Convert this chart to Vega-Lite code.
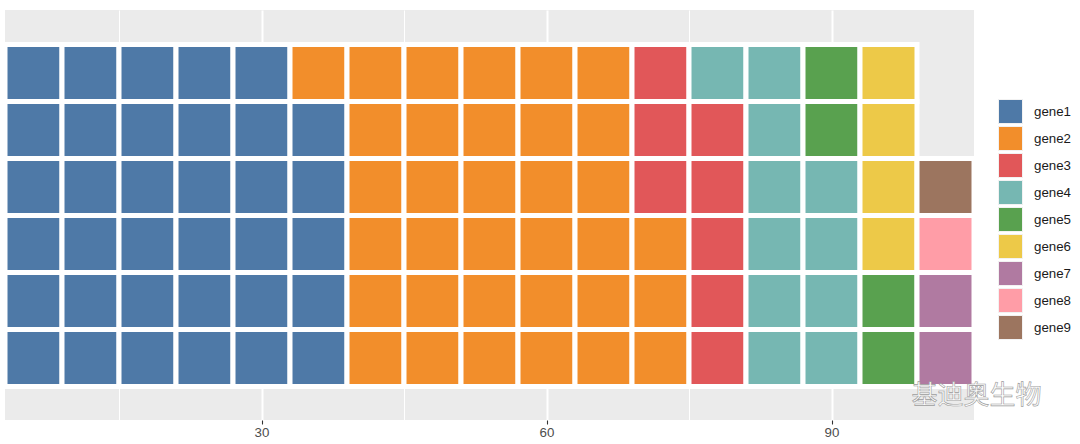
{
  "$schema": "https://vega.github.io/schema/vega-lite/v6.json",
  "width": 969,
  "height": 410,
  "autosize": {"type": "none"},
  "padding": {"left": 5, "top": 10, "right": 106, "bottom": 24},
  "background": "white",
  "config": {
    "view": {"fill": "#EBEBEB", "stroke": null},
    "font": "Liberation Sans"
  },
  "layer": [
    {
      "data": {
        "values": [
          {"x": 6, "y": 1, "g": "gene1"}, {"x": 6, "y": 2, "g": "gene1"}, {"x": 6, "y": 3, "g": "gene1"}, {"x": 6, "y": 4, "g": "gene1"}, {"x": 6, "y": 5, "g": "gene1"}, {"x": 6, "y": 6, "g": "gene1"},
          {"x": 12, "y": 1, "g": "gene1"}, {"x": 12, "y": 2, "g": "gene1"}, {"x": 12, "y": 3, "g": "gene1"}, {"x": 12, "y": 4, "g": "gene1"}, {"x": 12, "y": 5, "g": "gene1"}, {"x": 12, "y": 6, "g": "gene1"},
          {"x": 18, "y": 1, "g": "gene1"}, {"x": 18, "y": 2, "g": "gene1"}, {"x": 18, "y": 3, "g": "gene1"}, {"x": 18, "y": 4, "g": "gene1"}, {"x": 18, "y": 5, "g": "gene1"}, {"x": 18, "y": 6, "g": "gene1"},
          {"x": 24, "y": 1, "g": "gene1"}, {"x": 24, "y": 2, "g": "gene1"}, {"x": 24, "y": 3, "g": "gene1"}, {"x": 24, "y": 4, "g": "gene1"}, {"x": 24, "y": 5, "g": "gene1"}, {"x": 24, "y": 6, "g": "gene1"},
          {"x": 30, "y": 1, "g": "gene1"}, {"x": 30, "y": 2, "g": "gene1"}, {"x": 30, "y": 3, "g": "gene1"}, {"x": 30, "y": 4, "g": "gene1"}, {"x": 30, "y": 5, "g": "gene1"}, {"x": 30, "y": 6, "g": "gene1"},
          {"x": 36, "y": 1, "g": "gene1"}, {"x": 36, "y": 2, "g": "gene1"}, {"x": 36, "y": 3, "g": "gene1"}, {"x": 36, "y": 4, "g": "gene1"}, {"x": 36, "y": 5, "g": "gene1"}, {"x": 36, "y": 6, "g": "gene2"},
          {"x": 42, "y": 1, "g": "gene2"}, {"x": 42, "y": 2, "g": "gene2"}, {"x": 42, "y": 3, "g": "gene2"}, {"x": 42, "y": 4, "g": "gene2"}, {"x": 42, "y": 5, "g": "gene2"}, {"x": 42, "y": 6, "g": "gene2"},
          {"x": 48, "y": 1, "g": "gene2"}, {"x": 48, "y": 2, "g": "gene2"}, {"x": 48, "y": 3, "g": "gene2"}, {"x": 48, "y": 4, "g": "gene2"}, {"x": 48, "y": 5, "g": "gene2"}, {"x": 48, "y": 6, "g": "gene2"},
          {"x": 54, "y": 1, "g": "gene2"}, {"x": 54, "y": 2, "g": "gene2"}, {"x": 54, "y": 3, "g": "gene2"}, {"x": 54, "y": 4, "g": "gene2"}, {"x": 54, "y": 5, "g": "gene2"}, {"x": 54, "y": 6, "g": "gene2"},
          {"x": 60, "y": 1, "g": "gene2"}, {"x": 60, "y": 2, "g": "gene2"}, {"x": 60, "y": 3, "g": "gene2"}, {"x": 60, "y": 4, "g": "gene2"}, {"x": 60, "y": 5, "g": "gene2"}, {"x": 60, "y": 6, "g": "gene2"},
          {"x": 66, "y": 1, "g": "gene2"}, {"x": 66, "y": 2, "g": "gene2"}, {"x": 66, "y": 3, "g": "gene2"}, {"x": 66, "y": 4, "g": "gene2"}, {"x": 66, "y": 5, "g": "gene2"}, {"x": 66, "y": 6, "g": "gene2"},
          {"x": 72, "y": 1, "g": "gene2"}, {"x": 72, "y": 2, "g": "gene2"}, {"x": 72, "y": 3, "g": "gene2"}, {"x": 72, "y": 4, "g": "gene3"}, {"x": 72, "y": 5, "g": "gene3"}, {"x": 72, "y": 6, "g": "gene3"},
          {"x": 78, "y": 1, "g": "gene3"}, {"x": 78, "y": 2, "g": "gene3"}, {"x": 78, "y": 3, "g": "gene3"}, {"x": 78, "y": 4, "g": "gene3"}, {"x": 78, "y": 5, "g": "gene3"}, {"x": 78, "y": 6, "g": "gene4"},
          {"x": 84, "y": 1, "g": "gene4"}, {"x": 84, "y": 2, "g": "gene4"}, {"x": 84, "y": 3, "g": "gene4"}, {"x": 84, "y": 4, "g": "gene4"}, {"x": 84, "y": 5, "g": "gene4"}, {"x": 84, "y": 6, "g": "gene4"},
          {"x": 90, "y": 1, "g": "gene4"}, {"x": 90, "y": 2, "g": "gene4"}, {"x": 90, "y": 3, "g": "gene4"}, {"x": 90, "y": 4, "g": "gene4"}, {"x": 90, "y": 5, "g": "gene5"}, {"x": 90, "y": 6, "g": "gene5"},
          {"x": 96, "y": 1, "g": "gene5"}, {"x": 96, "y": 2, "g": "gene5"}, {"x": 96, "y": 3, "g": "gene6"}, {"x": 96, "y": 4, "g": "gene6"}, {"x": 96, "y": 5, "g": "gene6"}, {"x": 96, "y": 6, "g": "gene6"},
          {"x": 102, "y": 1, "g": "gene7"}, {"x": 102, "y": 2, "g": "gene7"}, {"x": 102, "y": 3, "g": "gene8"}, {"x": 102, "y": 4, "g": "gene9"}
        ]
      },
      "mark": {"type": "square", "size": 3249, "filled": true, "opacity": 1, "stroke": "white", "strokeWidth": 5},
      "encoding": {
        "x": {
          "field": "x", "type": "quantitative",
          "scale": {"domain": [3, 105], "nice": false, "zero": false},
          "axis": {
            "title": null,
            "values": [15, 30, 45, 60, 75, 90],
            "domain": false,
            "grid": true,
            "gridColor": "white",
            "gridWidth": {"condition": {"test": "datum.value % 30 === 0", "value": 2}, "value": 1},
            "tickOpacity": {"condition": {"test": "datum.value % 30 === 0", "value": 1}, "value": 0},
            "tickColor": "#333333",
            "tickSize": 4,
            "tickWidth": 1.1,
            "labelExpr": "datum.value % 30 === 0 ? datum.label : ''",
            "labelFont": "Liberation Sans",
            "labelFontSize": 13.3,
            "labelColor": "#4D4D4D",
            "labelPadding": 1
          }
        },
        "y": {
          "field": "y", "type": "quantitative",
          "scale": {"domain": [-0.09, 7.105], "nice": false, "zero": false},
          "axis": null
        },
        "color": {
          "field": "g", "type": "nominal",
          "scale": {
            "domain": ["gene1", "gene2", "gene3", "gene4", "gene5", "gene6", "gene7", "gene8", "gene9"],
            "range": ["#4E79A7", "#F28E2B", "#E15759", "#76B7B2", "#59A14F", "#EDC948", "#B07AA1", "#FF9DA7", "#9C755F"]
          },
          "legend": {
            "title": null,
            "orient": "none",
            "legendX": 993,
            "legendY": 89,
            "padding": 0,
            "symbolType": "square",
            "symbolSize": 576,
            "symbolStrokeColor": "#F2F2F2",
            "symbolStrokeWidth": 1,
            "symbolOpacity": 1,
            "rowPadding": -2,
            "labelFont": "Liberation Sans",
            "labelFontSize": 13.3,
            "labelColor": "#1A1A1A",
            "labelOffset": 11,
            "encode": {
              "symbols": {
                "update": {
                  "stroke": {"value": "#F2F2F2"},
                  "strokeWidth": {"value": 1}
                }
              }
            }
          }
        }
      }
    },
    {
      "data": {"values": [{"x": 105.26, "y": 0.33, "t": "基迪奥生物"}]},
      "mark": {"type": "text", "font": "Noto Sans CJK SC", "fontSize": 26, "fill": "#FFFFFF", "stroke": "#9A9A9A", "strokeWidth": 0.6, "align": "center", "baseline": "middle"},
      "encoding": {
        "x": {"field": "x", "type": "quantitative"},
        "y": {"field": "y", "type": "quantitative"},
        "text": {"field": "t"}
      }
    }
  ]
}
